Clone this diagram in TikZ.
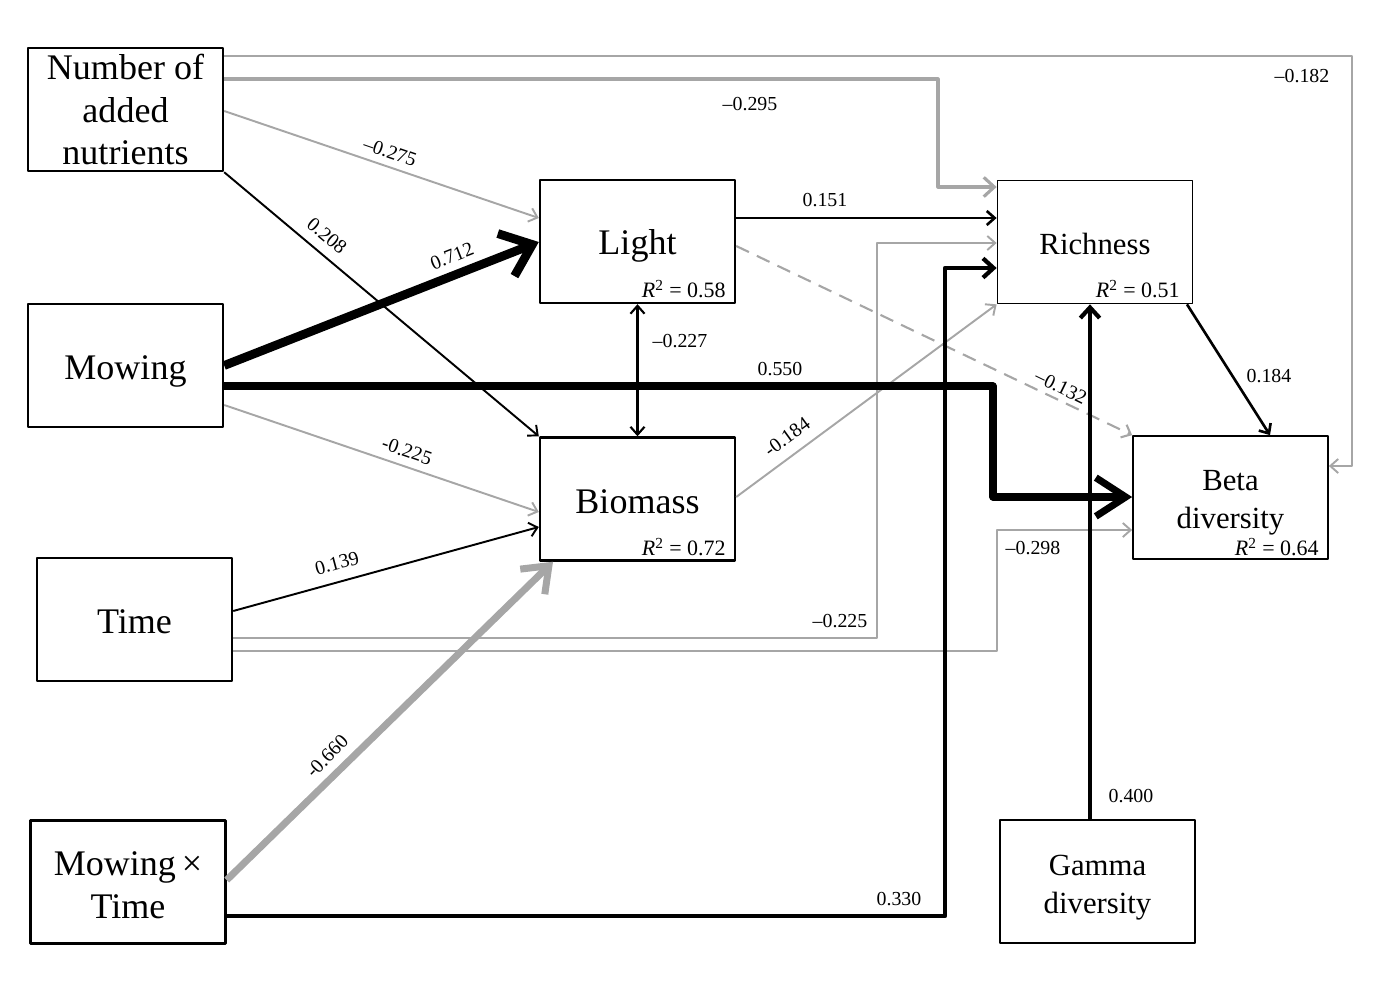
\documentclass[tikz,border=0pt]{standalone}
\usepackage{fontspec}
\setmainfont{Liberation Serif}
\usetikzlibrary{arrows.meta}
\definecolor{lg}{RGB}{166,166,166}
\newcommand\vstr[1]{\rule{0pt}{#1}}
\begin{document}
\begin{tikzpicture}[x=0.02cm,y=-0.02cm,
  boxl/.style={draw,line width=1.4pt,minimum width=3.9cm,minimum height=2.46cm,align=center,
    font=\fontsize{20.5}{24.4}\selectfont,inner sep=0pt},
  boxr/.style={draw,line width=1pt,minimum width=3.9cm,minimum height=2.46cm,align=center,
    font=\fontsize{17.5}{21.5}\selectfont,inner sep=0pt},
  lab/.style={font=\fontsize{11.3}{13}\selectfont,inner sep=1pt},
  rsq/.style={font=\fontsize{12.5}{14}\selectfont,anchor=east,inner sep=0pt},
  gth/.style={draw=lg,line width=1.1pt},
  bth/.style={draw=black,line width=1.1pt},
  ta/.style={-{Straight Barb[length=4.5pt,width=8pt]}},
  tb/.style={-{Straight Barb[length=6pt,width=11pt]}},
  line join=round]
\useasboundingbox (0,0) rectangle (1397,1001);

% nodes
\node[boxl] (nut) at (125.5,109.5) {Number of\\added\\nutrients};
\node[boxl] (mow) at (125.5,365.5) {\vstr{20.5pt}Mowing};
\node[boxl] (time) at (134.5,619.5) {\vstr{15.8pt}Time};
\node[boxl] (mt) at (128,882) {\vstr{17pt}Mowing\,×\\Time};
\node[boxl] (light) at (637.5,241.5) {\vstr{19.7pt}Light};
\node[boxl] (bio) at (637.5,499) {\vstr{16.3pt}Biomass};
\node[boxr] (rich) at (1095,242) {\vstr{14.3pt}Richness};
\node[boxr] (beta) at (1230.5,497.5) {\vstr{17.6pt}Beta\\diversity};
\node[boxr] (gamma) at (1097.5,881.5) {\vstr{18.4pt}Gamma\\diversity};

\node[rsq] (r1) at (726,289) {\textit{R}\textsuperscript{2} = 0.58};
\node[rsq] (r2) at (726,547) {\textit{R}\textsuperscript{2} = 0.72};
\node[rsq] (r3) at (1180,289) {\textit{R}\textsuperscript{2} = 0.51};
\node[rsq] (r4) at (1319,547) {\textit{R}\textsuperscript{2} = 0.64};

% connectors
\draw[gth,ta] (nut.east |- 0,56) -- (1352,56) -- (1352,466) -- (beta.east |- 0,466);
\draw[draw=lg,line width=1.8pt,tb] (nut.east |- 0,79) -| (938,187) -- (rich.west |- 0,187);
\draw[gth,ta] (nut.east |- 0,111) -- (light.west |- 0,218);
\draw[bth,ta] (nut.south east) -- (bio.north west);
\draw[gth,ta] (mow.east |- 0,405) -- (bio.west |- 0,512);
\draw[bth,ta] (time.east |- 0,611) -- (bio.west |- 0,527);
\draw[gth,ta] (time.east |- 0,638) -| (877,243) -- (rich.west |- 0,243);
\draw[gth,ta] (time.east |- 0,651) -| (997,530) -- (beta.west |- 0,530);
\draw[gth,ta] (bio.east |- 0,497) -- (rich.south west);
\draw[draw=lg,line width=1.2pt,dashed,dash pattern=on 8pt off 5pt,ta] (light.east |- 0,246) -- (beta.north west);
\draw[bth,line width=1.2pt,{Straight Barb[length=4.5pt,width=8pt]}-{Straight Barb[length=4.5pt,width=8pt]}] (light.south) -- (bio.north);
\draw[bth,line width=1.5pt,ta] (light.east |- 0,218) -- (rich.west |- 0,218);
\draw[bth,line width=1.5pt,ta] (rich.south east -| 1187,0) -- (beta.north -| 1270,0);
\draw[draw=lg,line width=4pt,-{Straight Barb[length=13pt,width=20pt]}] (mt.east |- 0,880) -- (bio.south west -| 553,0);
\draw[bth,line width=2.4pt,tb] (mt.east |- 0,916) -| (945,268) -- (rich.west |- 0,268);
\draw[bth,line width=2.4pt,tb] (gamma.north -| 1090,0) -- (rich.south -| 1090,0);
\draw[bth,line width=4pt,-{Straight Barb[length=17pt,width=22pt]}] (mow.east |- 0,386) -| (993,497) -- (beta.west |- 0,497);
\draw[bth,line width=5pt,-{Straight Barb[length=16pt,width=26pt]}] (mow.east) -- (light.west |- 0,242);

% labels
\node[lab] (l1) at (1302,76) {–0.182};
\node[lab] (l2) at (750,104) {–0.295};
\node[lab,rotate=-19] (l3) at (390,152) {–0.275};
\node[lab,rotate=-40] (l4) at (327,236) {0.208};
\node[lab,rotate=21.5] (l5) at (452,256) {0.712};
\node[lab] (l6) at (780,369) {0.550};
\node[lab,rotate=-19] (l7) at (407,451) {-0.225};
\node[lab] (l8) at (680,341) {–0.227};
\node[lab] (l9) at (825,200) {0.151};
\node[lab,rotate=-26] (l10) at (1061,387) {–0.132};
\node[lab,rotate=15] (l11) at (337,563) {0.139};
\node[lab] (l12) at (840,621) {–0.225};
\node[lab] (l13) at (1033,548) {–0.298};
\node[lab,rotate=36] (l14) at (787,437) {-0.184};
\node[lab,rotate=46] (l15) at (327,756) {-0.660};
\node[lab] (l16) at (899,899) {0.330};
\node[lab] (l17) at (1131,796) {0.400};
\node[lab] (l18) at (1269,376) {0.184};
\end{tikzpicture}
\end{document}
